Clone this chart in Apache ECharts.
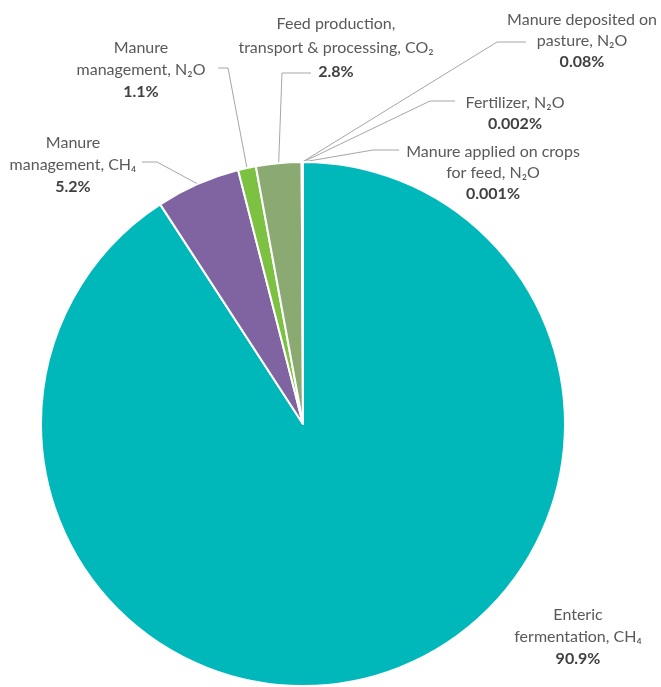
<!DOCTYPE html>
<html>
<head>
<meta charset="utf-8">
<script src="https://cdn.jsdelivr.net/npm/echarts@6/dist/echarts.min.js"></script>
<style>
  html, body { margin: 0; padding: 0; background: #fff; }
  #chart { width: 661px; height: 687px; }
</style>
</head>
<body>
<div id="chart"></div>
<script>
// Emission sources (share of total, %)
const categories = [
  'Enteric\nfermentation, CH₄',
  'Manure\nmanagement, CH₄',
  'Manure\nmanagement, N₂O',
  'Feed production,\ntransport & processing, CO₂',
  'Manure deposited on\npasture, N₂O',
  'Fertilizer, N₂O',
  'Manure applied on crops\nfor feed, N₂O'
];
const shares = [90.9, 5.2, 1.1, 2.8, 0.08, 0.002, 0.001];
const colors = ['#00B8BA', '#8064A2', '#7CC142', '#8AAA72', '#A5A5A5', '#4BACC6', '#F79646'];

// Label placement: centre of each text block, line height, leader-line elbow and end
const labelSpots = [
  { x: 578, y: 637, lh: 22, line: null },
  { x: 73,  y: 165, lh: 22, line: [[157, 162], [142, 162]] },
  { x: 141, y: 70,  lh: 22, line: [[228, 68], [218, 68]] },
  { x: 336, y: 48,  lh: 24, line: [[282, 73], [311, 73]] },
  { x: 582, y: 41,  lh: 21, line: [[497, 42], [526, 42]] },
  { x: 515, y: 113, lh: 21, line: [[430, 101], [455, 101]] },
  { x: 493, y: 173, lh: 21, line: [[373, 150], [399, 150]] }
];

const chart = echarts.init(document.getElementById('chart'), null, { renderer: 'canvas' });

const data = categories.map((name, i) => ({
  name: name,
  value: shares[i],
  itemStyle: { color: colors[i] },
  labelLine: { show: labelSpots[i].line !== null },
  label: {
    rich: {
      n: { lineHeight: labelSpots[i].lh },
      p: { lineHeight: labelSpots[i].lh }
    }
  }
}));

chart.setOption({
  animation: false,
  backgroundColor: '#ffffff',
  series: [{
    type: 'pie',
    center: [303, 424],
    radius: 262,
    startAngle: 90,
    clockwise: true,
    avoidLabelOverlap: false,
    data: data,
    itemStyle: { borderColor: '#ffffff', borderWidth: 2 },
    label: {
      show: true,
      position: 'outside',
      formatter: function (p) {
        const lines = p.name.split('\n').map(s => '{n|' + s + '}');
        lines.push('{p|' + p.value + '%}');
        return lines.join('\n');
      },
      rich: {
        n: { fontFamily: 'Lato', fontSize: 16, color: '#595959', lineHeight: 22, align: 'center' },
        p: { fontFamily: 'Lato', fontSize: 16, fontWeight: 'bold', color: '#404040', lineHeight: 22, align: 'center' }
      }
    },
    labelLine: {
      show: true,
      length: 10,
      length2: 10,
      lineStyle: { color: '#A6A6A6', width: 1 }
    },
    labelLayout: function (params) {
      const spot = labelSpots[params.dataIndex];
      const out = { x: spot.x, y: spot.y, align: 'center', verticalAlign: 'middle' };
      if (spot.line && params.labelLinePoints) {
        out.labelLinePoints = [params.labelLinePoints[0], spot.line[0], spot.line[1]];
      }
      return out;
    }
  }]
});
</script>
</body>
</html>
